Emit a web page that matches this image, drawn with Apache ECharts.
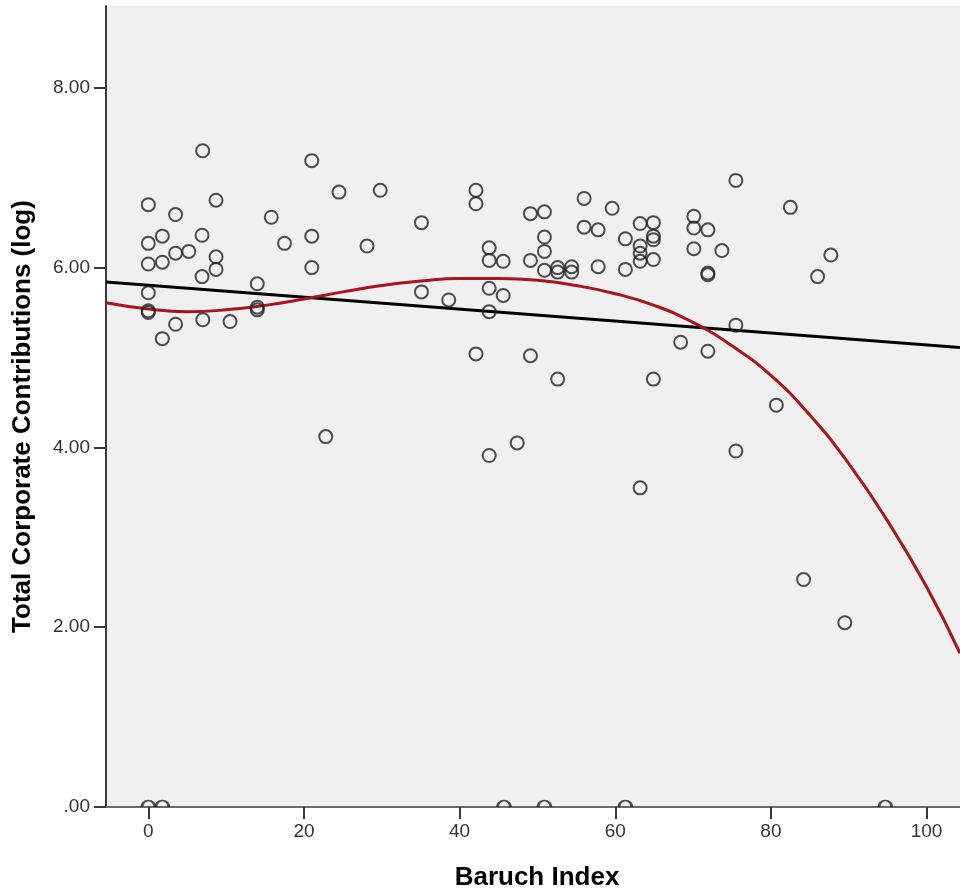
<!DOCTYPE html>
<html>
<head>
<meta charset="utf-8">
<title>Baruch Index vs Total Corporate Contributions</title>
<script src="https://cdn.jsdelivr.net/npm/echarts@6/dist/echarts.min.js"></script>
<style>
  html, body { margin: 0; padding: 0; background: #fff; }
  #main { width: 960px; height: 888px; }
</style>
</head>
<body>
<div id="main"></div>
<script>
// scatter points (Baruch index, log contributions)
var baruchX = [
  6.98, 21.0, 0, 8.7, 3.5, 15.8, 0, 1.8, 6.9, 21.0,
  17.5, 3.5, 5.2, 8.7, 0, 1.8, 8.7, 21.0, 6.9, 14.0,
  0, 0, 0, 14.0, 14.0, 3.5, 1.8, 7.0, 10.5, 22.8,
  24.5, 29.8, 42.1, 42.1, 49.1, 50.9, 56.0, 59.6, 28.1, 35.1,
  43.8, 50.9, 56.0, 57.8, 61.3, 43.8, 45.6, 49.1, 50.9, 50.9,
  52.6, 52.6, 54.4, 54.4, 57.8, 61.3, 35.1, 38.6, 43.8, 45.6,
  43.8, 42.1, 49.1, 52.6, 43.8, 47.4, 75.5, 82.5, 63.2, 64.9,
  70.1, 70.1, 71.9, 64.9, 64.9, 63.2, 63.2, 63.2, 64.9, 70.1,
  73.7, 71.9, 71.9, 87.7, 86.0, 75.5, 68.4, 71.9, 64.9, 80.7,
  75.5, 63.2, 84.2, 89.5
];
var contribY = [
  7.30, 7.19, 6.70, 6.75, 6.59, 6.56, 6.27, 6.35, 6.36, 6.35,
  6.27, 6.16, 6.18, 6.12, 6.04, 6.06, 5.98, 6.00, 5.90, 5.82,
  5.72, 5.52, 5.50, 5.56, 5.53, 5.37, 5.21, 5.42, 5.40, 4.12,
  6.84, 6.86, 6.86, 6.71, 6.60, 6.62, 6.77, 6.66, 6.24, 6.50,
  6.22, 6.34, 6.45, 6.42, 6.32, 6.08, 6.07, 6.08, 6.18, 5.97,
  6.00, 5.95, 6.01, 5.95, 6.01, 5.98, 5.73, 5.64, 5.77, 5.69,
  5.51, 5.04, 5.02, 4.76, 3.91, 4.05, 6.97, 6.67, 6.49, 6.50,
  6.57, 6.44, 6.42, 6.35, 6.31, 6.24, 6.16, 6.07, 6.09, 6.21,
  6.19, 5.94, 5.92, 6.14, 5.90, 5.36, 5.17, 5.07, 4.76, 4.47,
  3.96, 3.55, 2.53, 2.05
];
// cases sitting on the zero line
var zeroX = [0, 1.8, 45.7, 50.9, 61.3, 94.7];

// linear fit line, read at the plot edges
var linearX = [-5.44, 104.3];
var linearY = [5.84, 5.11];

// cubic fit curve, every 5 units
var cubicX = [-5.44, 0, 5, 10, 15, 20, 25, 30, 35, 40, 45, 50, 55, 60, 65, 70, 75, 80, 85, 90, 95, 100, 104.3];
var cubicY = [5.61, 5.54, 5.51, 5.53, 5.58, 5.65, 5.73, 5.80, 5.85, 5.88, 5.88, 5.86, 5.80, 5.71, 5.58, 5.39, 5.13, 4.80, 4.36, 3.82, 3.18, 2.45, 1.71];

var xTicks = [0, 20, 40, 60, 80, 100];
var yTicks = [0, 2, 4, 6, 8];

function zip(a, b) {
  var out = [];
  for (var i = 0; i < a.length; i++) out.push([a[i], b[i]]);
  return out;
}

var FONT = 'Arial, "Liberation Sans", sans-serif';
var AXIS_COLOR = '#3a3a3a';
var MARK_COLOR = '#222';
var X_MIN = -5.44, X_MAX = 104.3;
var Y_MIN = 0, Y_MAX = 8.91;

var chart = echarts.init(document.getElementById('main'), null, { renderer: 'canvas' });

var option = {
  animation: false,
  backgroundColor: '#ffffff',
  grid: {
    left: 106, right: 0, top: 6, bottom: 81,
    containLabel: false,
    outerBoundsMode: 'none',
    show: true,
    backgroundColor: '#f0f0f0',
    borderWidth: 0
  },
  xAxis: [{
    type: 'value',
    min: X_MIN, max: X_MAX,
    name: 'Baruch Index',
    nameLocation: 'middle',
    nameGap: 58,
    nameTextStyle: { fontFamily: FONT, fontSize: 26, fontWeight: 'bold', color: '#000', padding: [0, 0, 0, 8] },
    axisLine: { show: true, onZero: false, lineStyle: { color: AXIS_COLOR, width: 2 } },
    axisTick: { show: true, length: 12, customValues: xTicks, lineStyle: { color: AXIS_COLOR, width: 2 } },
    axisLabel: { customValues: xTicks, margin: 15, fontFamily: FONT, fontSize: 19, color: '#333' },
    splitLine: { show: false }
  }, {
    // top frame line of the plot
    type: 'value',
    position: 'top',
    min: X_MIN, max: X_MAX,
    axisLine: { show: true, lineStyle: { color: '#7a7a7a', width: 1.5 } },
    axisTick: { show: false },
    axisLabel: { show: false },
    splitLine: { show: false }
  }],
  yAxis: {
    type: 'value',
    min: Y_MIN, max: Y_MAX,
    name: 'Total Corporate Contributions (log)',
    nameLocation: 'middle',
    nameGap: 70,
    nameTextStyle: { fontFamily: FONT, fontSize: 26, fontWeight: 'bold', color: '#000', padding: [0, 20, 0, 0] },
    axisLine: { show: true, onZero: false, lineStyle: { color: AXIS_COLOR, width: 2 } },
    axisTick: { show: true, length: 12, customValues: yTicks, lineStyle: { color: AXIS_COLOR, width: 2 } },
    axisLabel: {
      customValues: yTicks, margin: 16, fontFamily: FONT, fontSize: 19, color: '#333',
      formatter: function (v) { return v === 0 ? '.00' : v.toFixed(2); }
    },
    splitLine: { show: false }
  },
  series: [{
    name: 'Linear',
    type: 'line',
    data: zip(linearX, linearY),
    showSymbol: false,
    silent: true,
    lineStyle: { color: '#000', width: 3 },
    z: 2
  }, {
    name: 'Cubic',
    type: 'line',
    data: zip(cubicX, cubicY),
    smooth: 0.5,
    showSymbol: false,
    silent: true,
    lineStyle: { color: '#a8151b', width: 3 },
    z: 3
  }, {
    name: 'Cases',
    type: 'scatter',
    data: zip(baruchX, contribY),
    symbol: 'circle',
    symbolSize: 13,
    silent: true,
    itemStyle: { color: 'rgba(0,0,0,0)', borderColor: MARK_COLOR, borderWidth: 2 },
    z: 4
  }, {
    name: 'Zero cases',
    type: 'scatter',
    data: zeroX.map(function (x) { return [x, 0]; }),
    symbol: 'path://M0,10 A10,10 0 0 1 20,10',
    symbolSize: [13, 6.5],
    symbolOffset: [0, '-50%'],
    silent: true,
    itemStyle: { color: 'rgba(0,0,0,0)', borderColor: MARK_COLOR, borderWidth: 2 },
    z: 4
  }]
};

chart.setOption(option);
</script>
</body>
</html>
